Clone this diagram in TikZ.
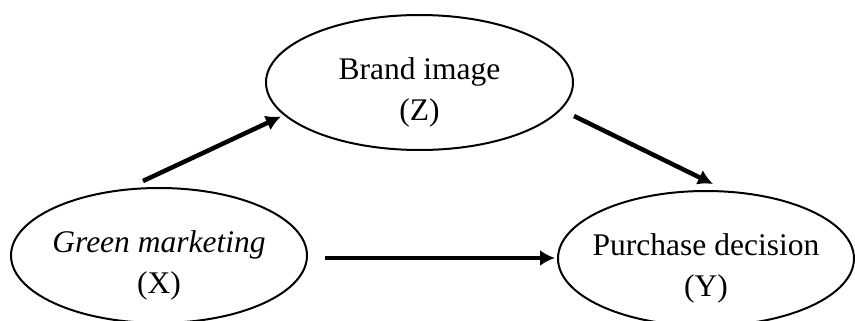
\documentclass[tikz,border=0pt]{standalone}
\usepackage{fontspec}
\setmainfont{Liberation Serif}
\usetikzlibrary{shapes,arrows.meta}

\begin{document}
\begin{tikzpicture}[x=1pt,y=-1pt,
        oval/.style={draw, ellipse, line width=2pt, minimum width=296pt, minimum height=135pt, inner sep=0pt},
        txt/.style={align=center, inner sep=0pt, font=\fontsize{31.5pt}{41pt}\selectfont},
        link/.style={line width=4.5pt, -{Latex[length=15pt,width=16pt]}}]
            \useasboundingbox (0,0) rectangle (855,321);
            % Ellipses
            \node[oval, minimum width=307pt] (bi) at (419.5,82.5) {};
            \node[oval] (gm) at (159,255.5) {};
            \node[oval] (pd) at (706,258.5) {};
            % Enter label
            \node[txt] (bi-txt) at ([yshift=-10pt]bi.center) {Brand image\\(Z)};
            \node[txt] (gm-txt) at ([yshift=-10pt]gm.center) {\textit{Green marketing}\\(X)};
            \node[txt] (pd-txt) at ([yshift=-10pt]pd.center) {Purchase decision\\(Y)};
            % Arrows
            \draw[link] ([xshift=-16pt,yshift=6pt]gm.north) -- ([xshift=16pt,yshift=-34pt]bi.west);
            \draw[link] ([yshift=-33.5pt]bi.east) -- ([xshift=7pt,yshift=6pt]pd.north);
            \draw[link] ([xshift=17pt,yshift=-2.5pt]gm.east) -- ([xshift=-2pt,yshift=0.5pt]pd.west);
\end{tikzpicture}
\end{document}
